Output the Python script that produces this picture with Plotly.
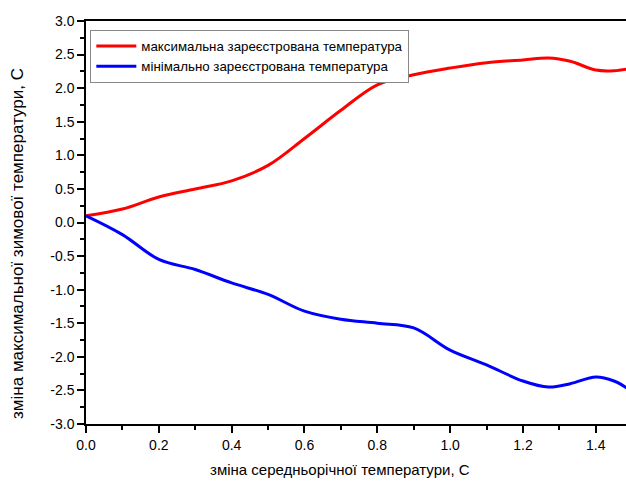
import plotly.graph_objects as go

# change of mean annual temperature, C
x_vals = [0.0, 0.1, 0.2, 0.3, 0.4, 0.5, 0.6, 0.7, 0.8, 0.9, 1.0, 1.1, 1.2, 1.27, 1.33, 1.4, 1.45, 1.49]
# change of max / min recorded winter temperature, C
t_max = [0.1, 0.2, 0.38, 0.5, 0.62, 0.85, 1.25, 1.67, 2.05, 2.2, 2.3, 2.38, 2.42, 2.45, 2.4, 2.27, 2.26, 2.29]
t_min = [0.1, -0.18, -0.55, -0.7, -0.9, -1.07, -1.32, -1.44, -1.5, -1.57, -1.9, -2.12, -2.36, -2.45, -2.4, -2.3, -2.36, -2.48]

series_names = ["максимальна зареєстрована температура", "мінімально зареєстрована температура"]
x_title = "зміна середньорічної температури, С"
y_title = "зміна максимальної зимової температури, С"
x_ticks = [0.0, 0.2, 0.4, 0.6, 0.8, 1.0, 1.2, 1.4]
y_ticks = [3.0, 2.5, 2.0, 1.5, 1.0, 0.5, 0.0, -0.5, -1.0, -1.5, -2.0, -2.5, -3.0]

font = "Liberation Sans, Arial, sans-serif"

fig = go.Figure()
fig.add_trace(go.Scatter(x=x_vals, y=t_max, name=series_names[0], mode="lines",
                         line=dict(color="#ff0000", width=3, shape="spline", smoothing=1.0)))
fig.add_trace(go.Scatter(x=x_vals, y=t_min, name=series_names[1], mode="lines",
                         line=dict(color="#0000ff", width=3, shape="spline", smoothing=1.0)))

# axis titles placed as paper-anchored annotations
fig.add_annotation(text=x_title, xref="paper", yref="paper", x=0.470, y=-0.114,
                   xanchor="center", yanchor="middle", showarrow=False,
                   font=dict(family=font, size=15, color="#000"))
fig.add_annotation(text=y_title, xref="paper", yref="paper", x=-0.128, y=0.449,
                   xanchor="center", yanchor="middle", showarrow=False, textangle=-90,
                   font=dict(family=font, size=17, color="#000"))

fig.update_layout(
    width=626, height=483,
    margin=dict(l=86, r=0, t=21, b=59),
    paper_bgcolor="white", plot_bgcolor="white",
    font=dict(family=font, size=14, color="#000"),
    showlegend=True,
    legend=dict(x=0.008, y=0.978, xanchor="left", yanchor="top",
                bordercolor="#888", borderwidth=1, bgcolor="white",
                font=dict(family=font, size=13.3), itemwidth=40,
                tracegroupgap=0),
    xaxis=dict(range=[0, 1.483], tickvals=x_ticks, ticktext=[f"{v:.1f}" for v in x_ticks],
               showline=True, linecolor="#000", linewidth=1.5, mirror=True,
               ticks="outside", ticklen=7, tickwidth=1.5, tickcolor="#000",
               minor=dict(ticks="outside", ticklen=4, dtick=0.1, tick0=0, tickcolor="#000", tickwidth=1.5),
               showgrid=False, zeroline=False,
               tickfont=dict(family=font, size=14)),
    yaxis=dict(range=[-3, 3], tickvals=y_ticks, ticktext=[f"{v:.1f}" for v in y_ticks],
               showline=True, linecolor="#000", linewidth=1.5, mirror=False,
               ticks="outside", ticklen=7, tickwidth=1.5, tickcolor="#000",
               minor=dict(ticks="outside", ticklen=4, dtick=0.25, tick0=0, tickcolor="#000", tickwidth=1.5),
               showgrid=False, zeroline=False,
               tickfont=dict(family=font, size=14)),
)

fig.write_html("out.html")
